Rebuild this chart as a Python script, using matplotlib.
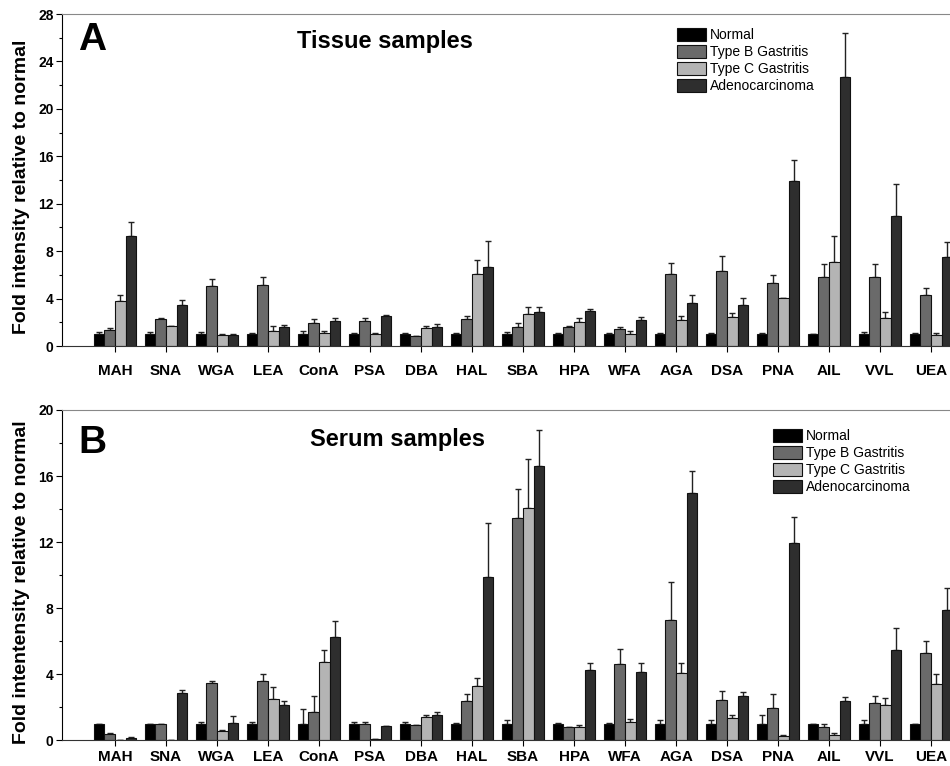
import numpy as np
import matplotlib
matplotlib.use('Agg')
import matplotlib.pyplot as plt

plt.rcParams['font.family'] = ['Liberation Sans', 'DejaVu Sans']

lectins = ['MAH', 'SNA', 'WGA', 'LEA', 'ConA', 'PSA', 'DBA', 'HAL', 'SBA',
           'HPA', 'WFA', 'AGA', 'DSA', 'PNA', 'AIL', 'VVL', 'UEA']
groups = ['Normal', 'Type B Gastritis', 'Type C Gastritis', 'Adenocarcinoma']

# tissue samples (panel A): means and upper error
normal_t = [1.0] * 17
normal_t_err = [0.15, 0.15, 0.15, 0.10, 0.24, 0.12, 0.06, 0.08, 0.15, 0.06, 0.08, 0.12, 0.12, 0.06, 0.02, 0.20, 0.12]
typeb_t = [1.35, 2.28, 5.06, 5.12, 1.97, 2.11, 0.82, 2.25, 1.64, 1.64, 1.41, 6.07, 6.30, 5.35, 5.82, 5.85, 4.27]
typeb_t_err = [0.17, 0.11, 0.62, 0.67, 0.28, 0.28, 0.0, 0.31, 0.28, 0.04, 0.23, 0.90, 1.32, 0.67, 1.07, 1.07, 0.59]
typec_t = [3.77, 1.69, 0.93, 1.30, 1.13, 1.04, 1.52, 6.05, 2.73, 2.05, 1.04, 2.23, 2.45, 4.02, 7.12, 2.39, 0.96]
typec_t_err = [0.50, 0.03, 0.07, 0.36, 0.17, 0.05, 0.17, 1.21, 0.59, 0.31, 0.20, 0.27, 0.33, 0.03, 2.13, 0.48, 0.17]
adeno_t = [9.28, 3.43, 0.93, 1.64, 2.11, 2.56, 1.64, 6.67, 2.87, 2.92, 2.17, 3.66, 3.49, 13.89, 22.71, 10.99, 7.50]
adeno_t_err = [1.21, 0.48, 0.07, 0.16, 0.28, 0.04, 0.19, 2.19, 0.39, 0.23, 0.25, 0.67, 0.53, 1.79, 3.71, 2.67, 1.30]

# serum samples (panel B)
normal_s = [1.0] * 17
normal_s_err = [0.0, 0.0, 0.10, 0.10, 0.88, 0.10, 0.10, 0.06, 0.20, 0.06, 0.06, 0.20, 0.20, 0.53, 0.0, 0.20, 0.0]
typeb_s = [0.40, 0.97, 3.49, 3.57, 1.70, 0.99, 0.91, 2.38, 13.46, 0.83, 4.60, 7.29, 2.44, 1.96, 0.79, 2.24, 5.29]
typeb_s_err = [0.02, 0.0, 0.12, 0.47, 1.00, 0.14, 0.0, 0.41, 1.74, 0.0, 0.93, 2.28, 0.55, 0.83, 0.18, 0.44, 0.72]
typec_s = [0.03, 0.0, 0.57, 2.48, 4.72, 0.05, 1.41, 3.29, 14.07, 0.83, 1.09, 4.10, 1.33, 0.26, 0.32, 2.14, 3.41]
typec_s_err = [0.0, 0.0, 0.06, 0.75, 0.75, 0.0, 0.12, 0.46, 2.98, 0.12, 0.22, 0.56, 0.18, 0.06, 0.10, 0.44, 0.63]
adeno_s = [0.12, 2.87, 1.03, 2.12, 6.24, 0.87, 1.55, 9.91, 16.63, 4.28, 4.12, 14.97, 2.68, 11.95, 2.38, 5.49, 7.87]
adeno_s_err = [0.06, 0.16, 0.44, 0.28, 0.98, 0.0, 0.19, 3.27, 2.18, 0.38, 0.54, 1.32, 0.23, 1.59, 0.24, 1.29, 1.33]

colors = ['#000000', '#6a6a6a', '#b4b4b4', '#2e2e2e']

fig = plt.figure(figsize=(9.5, 7.66), dpi=100)
axA = fig.add_axes([0.0653, 0.5483, 0.9953, 0.4334])
axB = fig.add_axes([0.0653, 0.0336, 0.9953, 0.4312])

x = np.arange(len(lectins))
w = 0.21


def draw_panel(ax, means, errs, ymax, ylabel, xpad):
    for k, (m, e) in enumerate(zip(means, errs)):
        pos = x + (k - 1.5) * w
        ax.bar(pos, m, width=w, color=colors[k], edgecolor='#111111',
               linewidth=0.8, label=groups[k], zorder=2)
        ax.errorbar(pos, m, yerr=[np.zeros(len(m)), e], fmt='none',
                    ecolor='#222222', elinewidth=1.0, capsize=2.5,
                    capthick=1.0, zorder=1)
    ax.set_xlim(-1.04, 17.5)
    ax.set_ylim(0, ymax)
    ax.set_yticks(np.arange(0, ymax + 1, 4))
    ax.set_yticks(np.arange(0, ymax + 1, 2), minor=True)
    ax.set_xticks(x)
    ax.set_xticklabels(lectins, fontsize=11, fontweight='bold')
    for lab in ax.get_yticklabels():
        lab.set_fontweight('bold')
    ax.tick_params(axis='y', which='major', direction='out', length=4,
                   width=0.8, labelsize=10, pad=2)
    ax.tick_params(axis='y', which='minor', direction='out', length=2.5,
                   width=0.8)
    ax.tick_params(axis='x', direction='out', length=4, width=0.8,
                   pad=xpad)
    ax.spines['left'].set_color('#000000')
    ax.spines['bottom'].set_color('#333333')
    ax.spines['top'].set_color('#888888')
    ax.spines['right'].set_visible(False)
    ax.set_ylabel(ylabel, fontsize=14, fontweight='bold')
    ax.yaxis.set_label_coords(-0.034, 0.48)


draw_panel(axA, [normal_t, typeb_t, typec_t, adeno_t],
           [normal_t_err, typeb_t_err, typec_t_err, adeno_t_err],
           28, 'Fold intensity relative to normal', 9)
draw_panel(axB, [normal_s, typeb_s, typec_s, adeno_s],
           [normal_s_err, typeb_s_err, typec_s_err, adeno_s_err],
           20, 'Fold intentensity relative to normal', 3)

fig.text(0.082, 0.935, 'A', fontsize=28, fontweight='bold')
fig.text(0.405, 0.937, 'Tissue samples', fontsize=17, fontweight='bold',
         ha='center')
fig.text(0.082, 0.408, 'B', fontsize=28, fontweight='bold')
fig.text(0.418, 0.418, 'Serum samples', fontsize=17, fontweight='bold',
         ha='center')

leg_kw = dict(frameon=False, fontsize=10, handlelength=2.1, handleheight=1.1,
              labelspacing=0.19, handletextpad=0.3, borderpad=0,
              borderaxespad=0, loc='upper left')
axA.legend(bbox_to_anchor=(0.7126, 0.964), bbox_transform=fig.transFigure,
           **leg_kw)
axB.legend(bbox_to_anchor=(0.8137, 0.4406), bbox_transform=fig.transFigure,
           **leg_kw)

fig.savefig('out.png', dpi=100)
